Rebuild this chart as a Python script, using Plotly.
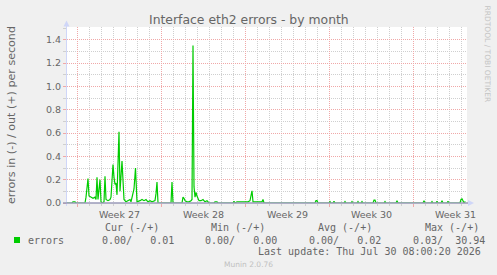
import plotly.graph_objects as go

# ---- data ----
times = [
    "2026-06-27 03:00", "2026-06-27 13:00", "2026-06-27 15:00", "2026-06-27 19:00", "2026-06-27 21:00",
    "2026-06-28 15:00", "2026-06-28 17:00", "2026-06-28 21:00", "2026-06-28 23:00",
    "2026-06-29 03:00", "2026-06-29 07:00", "2026-06-29 11:00", "2026-06-29 13:00", "2026-06-29 15:00",
    "2026-06-29 17:00", "2026-06-29 21:00", "2026-06-29 23:00",
    "2026-06-30 01:00", "2026-06-30 05:00", "2026-06-30 07:00", "2026-06-30 09:00", "2026-06-30 13:00",
    "2026-06-30 17:00", "2026-06-30 19:00", "2026-06-30 23:00",
    "2026-07-01 01:00", "2026-07-01 03:00", "2026-07-01 05:00", "2026-07-01 07:00", "2026-07-01 11:00",
    "2026-07-01 13:00", "2026-07-01 17:00", "2026-07-01 19:00", "2026-07-01 21:00",
    "2026-07-02 01:00", "2026-07-02 05:00", "2026-07-02 09:00", "2026-07-02 11:00", "2026-07-02 15:00",
    "2026-07-02 17:00", "2026-07-02 20:00", "2026-07-02 23:00",
    "2026-07-03 05:00", "2026-07-03 09:00", "2026-07-03 13:00", "2026-07-03 17:00", "2026-07-03 21:00",
    "2026-07-04 01:00", "2026-07-04 05:00", "2026-07-04 11:00", "2026-07-04 13:00", "2026-07-04 15:00",
    "2026-07-04 17:00",
    "2026-07-05 19:00", "2026-07-05 21:00", "2026-07-05 23:00",
    "2026-07-06 17:00", "2026-07-06 19:00", "2026-07-06 21:00", "2026-07-06 23:00",
    "2026-07-07 03:00", "2026-07-07 07:00", "2026-07-07 11:00", "2026-07-07 13:00", "2026-07-07 15:00",
    "2026-07-07 17:00", "2026-07-07 19:00", "2026-07-07 21:00", "2026-07-07 23:00",
    "2026-07-08 01:00", "2026-07-08 03:00", "2026-07-08 07:00", "2026-07-08 11:00", "2026-07-08 15:00",
    "2026-07-08 19:00", "2026-07-08 23:00",
    "2026-07-09 09:00", "2026-07-09 11:00", "2026-07-09 15:00", "2026-07-09 17:00",
    "2026-07-10 23:00", "2026-07-11 01:00", "2026-07-11 03:00", "2026-07-11 07:00", "2026-07-11 13:00",
    "2026-07-11 17:00", "2026-07-11 23:00",
    "2026-07-12 05:00", "2026-07-12 09:00", "2026-07-12 13:00", "2026-07-12 15:00", "2026-07-12 21:00",
    "2026-07-13 03:00", "2026-07-13 09:00", "2026-07-13 11:00", "2026-07-13 13:00",
    "2026-07-17 19:00", "2026-07-17 21:00", "2026-07-17 23:00", "2026-07-18 01:00",
    "2026-07-18 23:00", "2026-07-19 01:00", "2026-07-19 03:00",
    "2026-07-19 07:00", "2026-07-19 09:00", "2026-07-19 11:00",
    "2026-07-20 05:00", "2026-07-20 07:00", "2026-07-20 09:00",
    "2026-07-20 19:00", "2026-07-20 21:00", "2026-07-20 23:00",
    "2026-07-21 07:00", "2026-07-21 09:00", "2026-07-21 11:00",
    "2026-07-21 15:00", "2026-07-21 17:00", "2026-07-21 19:00",
    "2026-07-22 15:00", "2026-07-22 17:00", "2026-07-22 19:00", "2026-07-22 21:00",
    "2026-07-23 13:00", "2026-07-23 15:00", "2026-07-23 17:00",
    "2026-07-24 13:00", "2026-07-24 15:00", "2026-07-24 17:00",
    "2026-07-26 19:00", "2026-07-26 21:00", "2026-07-26 23:00",
    "2026-07-27 11:00", "2026-07-27 13:00", "2026-07-27 15:00",
    "2026-07-27 21:00", "2026-07-27 23:00", "2026-07-28 01:00",
    "2026-07-28 07:00", "2026-07-28 09:00", "2026-07-28 11:00",
    "2026-07-28 19:00", "2026-07-28 21:00", "2026-07-28 23:00",
    "2026-07-29 21:00", "2026-07-29 23:00", "2026-07-30 01:00", "2026-07-30 03:00",
    "2026-07-30 05:00", "2026-07-30 07:00", "2026-07-30 08:00",
]
errors_out = [
    0, 0, 0.01, 0.01, 0,
    0, 0.05, 0.21, 0.06,
    0.05, 0.04, 0.05, 0.03, 0.22,
    0.03, 0.20, 0.01,
    0.0, 0.01, 0.23, 0.03, 0.02,
    0.03, 0.05, 0.33,
    0.22, 0.16, 0.17, 0.07, 0.61,
    0.10, 0.36, 0.15, 0.03,
    0.01, 0.02, 0.03, 0.01, 0.08,
    0.12, 0.30, 0.01,
    0.02, 0.03, 0.02, 0.03, 0.01,
    0.02, 0.01, 0.02, 0.08, 0.18,
    0.0,
    0.0, 0.18, 0.0,
    0.0, 0.05, 0.04, 0.02,
    0.01, 0.01, 0.02, 0.03, 1.35,
    0.14, 0.05, 0.09, 0.06,
    0.03, 0.02, 0.02, 0.03, 0.01,
    0.02, 0.0,
    0.0, 0.01, 0.01, 0.0,
    0.0, 0.015, 0.0, 0.01, 0.01,
    0.005, 0.01,
    0.01, 0.02, 0.105, 0.01, 0.01,
    0.01, 0.01, 0.03, 0.0,
    0.0, 0.02, 0.02, 0.0,
    0.0, 0.012, 0.0,
    0.0, 0.015, 0.0,
    0.0, 0.012, 0.0,
    0.0, 0.012, 0.0,
    0.0, 0.012, 0.0,
    0.0, 0.012, 0.0,
    0.0, 0.025, 0.025, 0.0,
    0.0, 0.012, 0.0,
    0.0, 0.02, 0.0,
    0.0, 0.02, 0.0,
    0.0, 0.012, 0.0,
    0.0, 0.015, 0.0,
    0.0, 0.02, 0.0,
    0.0, 0.015, 0.0,
    0.0, 0.03, 0.035, 0.02,
    0.0, 0.01, 0.01,
]

x_range = ["2026-06-27 03:00", "2026-07-30 11:00"]
week_starts = ["2026-06-28", "2026-07-05", "2026-07-12", "2026-07-19", "2026-07-26"]
week_mid = ["2026-07-01 12:00", "2026-07-08 12:00", "2026-07-15 12:00", "2026-07-22 12:00", "2026-07-29 12:00"]
week_labels = ["Week 27", "Week 28", "Week 29", "Week 30", "Week 31"]
y_ticks = [0.0, 0.2, 0.4, 0.6, 0.8, 1.0, 1.2, 1.4]
y_max = 1.5086

series_name = "errors"
stat_headers = ["Cur (-/+)", "Min (-/+)", "Avg (-/+)", "Max (-/+)"]
stat_in = ["0.00", "0.00", "0.00", "0.03"]
stat_out = ["0.01", "0.00", "0.02", "30.94"]
last_update = "Last update: Thu Jul 30 08:00:20 2026"

title = "Interface eth2 errors - by month"
y_title = "errors in (-) / out (+) per second"

# ---- style ----
W, H = 497, 275
L, R, T, B = 67, 30, 27, 72
PW, PH = W - L - R, H - T - B
GREEN = "#00cc00"
FONT = "DejaVu Sans"
MONO = "DejaVu Sans Mono"
TXT = "#666666"
MGRID = "#f0a8a8"
GRID = "#cfcfcf"
AXIS = "#cfd6f8"
BASE = "#9a9ab8"


def px(x):
    return (x - L) / PW


def py(y):
    return (H - B - y) / PH


fig = go.Figure()
fig.add_trace(go.Scatter(x=times, y=errors_out, mode="lines",
                         line=dict(color=GREEN, width=1.2), hoverinfo="skip",
                         showlegend=False))
# invisible trace for label axis
fig.add_trace(go.Scatter(x=x_range, y=[None, None], xaxis="x2", showlegend=False,
                         hoverinfo="skip"))

fig.update_layout(
    width=W, height=H,
    margin=dict(l=L, r=R, t=T, b=B, pad=0),
    paper_bgcolor="#f0f0f0", plot_bgcolor="#ffffff",
    font=dict(family=FONT, color=TXT, size=9.5),
    showlegend=False,
    xaxis=dict(
        type="date", range=x_range, tickmode="array", tickvals=week_starts,
        showticklabels=False, showgrid=True, gridcolor=MGRID, griddash="1px,1px",
        gridwidth=1, ticks="outside", ticklen=3, tickcolor=MGRID,
        showline=False, zeroline=False,
        minor=dict(dtick=86400000, tick0="2026-06-27", showgrid=True, gridcolor=GRID,
                   griddash="1px,1px", ticks="outside", ticklen=2, tickcolor=GRID),
    ),
    xaxis2=dict(
        type="date", range=x_range, overlaying="x", anchor="y", side="bottom",
        tickmode="array", tickvals=week_mid, ticktext=week_labels,
        showgrid=False, ticks="", showline=False, zeroline=False,
        tickfont=dict(family=FONT, size=9.5, color=TXT), ticklabelstandoff=4,
    ),
    yaxis=dict(
        range=[0, y_max], tickmode="array", tickvals=y_ticks,
        ticktext=["%.1f" % v for v in y_ticks],
        showgrid=True, gridcolor=MGRID, griddash="1px,1px", gridwidth=1,
        ticks="outside", ticklen=3, tickcolor=MGRID, showline=False, zeroline=False,
        tickfont=dict(family=FONT, size=9.5, color=TXT),
        minor=dict(dtick=0.1, tick0=0, showgrid=True, gridcolor=GRID,
                   griddash="1px,1px", ticks="outside", ticklen=3, tickcolor=GRID),
    ),
)

shapes = [
    # y axis line + arrow
    dict(type="line", xref="paper", yref="paper", x0=px(66.5), x1=px(66.5),
         y0=py(206), y1=py(25), line=dict(color=AXIS, width=1), layer="above"),
    dict(type="path", xref="paper", yref="paper",
         path="M %f %f L %f %f L %f %f Z" % (px(63.5), py(26.5), px(66.5), py(20.5), px(69.5), py(26.5)),
         fillcolor=AXIS, line=dict(width=0), layer="above"),
    # x axis line + arrow
    dict(type="line", xref="paper", yref="paper", x0=px(63), x1=px(469),
         y0=py(203.0), y1=py(203.0), line=dict(color=BASE, width=1.5), layer="above"),
    dict(type="path", xref="paper", yref="paper",
         path="M %f %f L %f %f L %f %f Z" % (px(468), py(200), px(474), py(203), px(468), py(206)),
         fillcolor=AXIS, line=dict(width=0), layer="above"),
    # legend swatch
    dict(type="rect", xref="paper", yref="paper", x0=px(14), x1=px(20), y0=py(237), y1=py(243),
         fillcolor=GREEN, line=dict(width=0)),
]

NB = "\u00a0"
ann = []


def add(text, x, y, xanchor="left", size=10, family=MONO, color=TXT, angle=0):
    ann.append(dict(text=text, x=px(x), y=py(y), xref="paper", yref="paper",
                    xanchor=xanchor, yanchor="middle", showarrow=False,
                    textangle=angle, font=dict(family=family, size=size, color=color)))


add(title, 248.5, 19, xanchor="center", size=12.4, family=FONT)
add(y_title, 11, 115, xanchor="center", size=11.1, family=FONT, angle=-90)
add("RRDTOOL / TOBI OETIKER", 487, 53.5, xanchor="center", size=7.5, family=FONT,
    color="#c4c4c4", angle=90)

header_x = [102.7, 209, 316, 422.7]
value_x = [100, 203, 307, 411]
for hx, h in zip(header_x, stat_headers):
    add(h.replace(" ", NB), hx, 227.5)
add(series_name, 26, 240)
for vx, a, b in zip(value_x, stat_in, stat_out):
    s = "%s/%s" % (a, b.rjust(7))
    add(s.replace(" ", NB), vx, 240)
add(last_update.replace(" ", NB), 482.7, 251.7, xanchor="right")
add("Munin 2.0.76", 248, 264, xanchor="center", size=7.5, family=FONT, color="#c0c0c0")

fig.update_layout(shapes=shapes, annotations=ann)
fig.write_html("out.html", config={"displayModeBar": False})
